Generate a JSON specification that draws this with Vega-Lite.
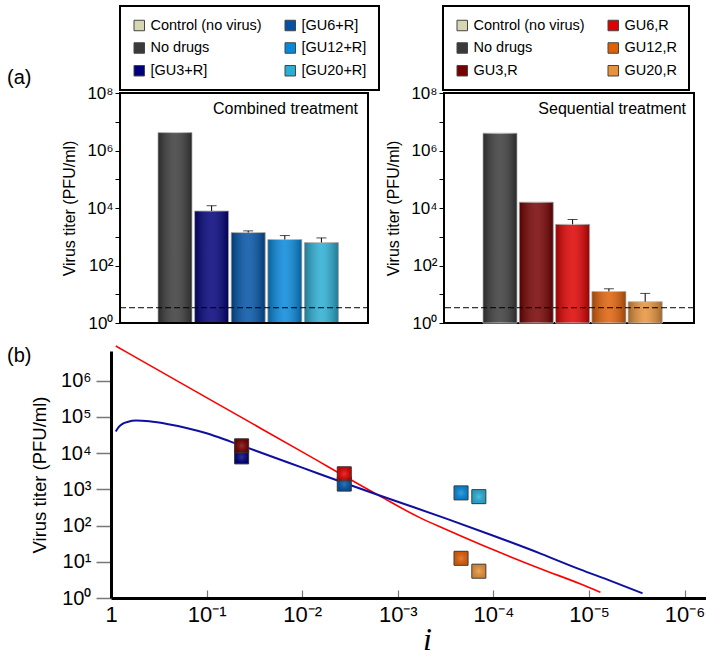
{
  "$schema": "https://vega.github.io/schema/vega-lite/v6.json",
  "padding": {"left": 7, "top": 4, "right": 0, "bottom": 0},
  "config": {"font": "Liberation Sans", "view": {"stroke": null}, "axis": {"grid": false, "labelColor": "black", "titleColor": "black"}, "legend": {"strokeWidth": 2}},
  "datasets": {
    "bars": [
      {"panel": "Combined", "cat": "No drugs", "v": 4200000},
      {"panel": "Combined", "cat": "[GU3+R]", "i": 0.043, "v": 7900, "err": 12000},
      {"panel": "Combined", "cat": "[GU6+R]", "i": 0.00363, "v": 1400, "err": 1600},
      {"panel": "Combined", "cat": "[GU12+R]", "i": 0.000218, "v": 800, "err": 1100},
      {"panel": "Combined", "cat": "[GU20+R]", "i": 0.000142, "v": 630, "err": 910},
      {"panel": "Sequential", "cat": "No drugs", "v": 4000000},
      {"panel": "Sequential", "cat": "GU3,R", "i": 0.043, "v": 16000},
      {"panel": "Sequential", "cat": "GU6,R", "i": 0.00363, "v": 2700, "err": 4000},
      {"panel": "Sequential", "cat": "GU12,R", "i": 0.000218, "v": 12.5, "err": 15.5},
      {"panel": "Sequential", "cat": "GU20,R", "i": 0.000142, "v": 5.5, "err": 10.7}
    ],
    "model": [
      {"model": "Sequential", "i": 0.8913, "v": 9120000},
      {"model": "Sequential", "i": 0.1, "v": 343000},
      {"model": "Sequential", "i": 0.01, "v": 10840},
      {"model": "Sequential", "i": 0.001585, "v": 684},
      {"model": "Sequential", "i": 0.000589, "v": 166},
      {"model": "Sequential", "i": 0.0003162, "v": 79.4},
      {"model": "Sequential", "i": 0.0001, "v": 21.4},
      {"model": "Sequential", "i": 0.00003162, "v": 6.31},
      {"model": "Sequential", "i": 0.00001242, "v": 2.48},
      {"model": "Sequential", "i": 0.000007586, "v": 1.445},
      {"model": "Combined", "i": 0.8913, "v": 39811},
      {"model": "Combined", "i": 0.8318, "v": 52481},
      {"model": "Combined", "i": 0.7586, "v": 64565},
      {"model": "Combined", "i": 0.6607, "v": 74131},
      {"model": "Combined", "i": 0.5495, "v": 79433},
      {"model": "Combined", "i": 0.3981, "v": 75858},
      {"model": "Combined", "i": 0.2512, "v": 63096},
      {"model": "Combined", "i": 0.1585, "v": 48978},
      {"model": "Combined", "i": 0.1, "v": 35481},
      {"model": "Combined", "i": 0.05623, "v": 20893},
      {"model": "Combined", "i": 0.03162, "v": 12023},
      {"model": "Combined", "i": 0.01, "v": 3981},
      {"model": "Combined", "i": 0.003162, "v": 1318},
      {"model": "Combined", "i": 0.001, "v": 457},
      {"model": "Combined", "i": 0.0003162, "v": 158.5},
      {"model": "Combined", "i": 0.0001, "v": 52.5},
      {"model": "Combined", "i": 0.00003162, "v": 16.6},
      {"model": "Combined", "i": 0.00001242, "v": 6.17},
      {"model": "Combined", "i": 0.00000631, "v": 3.16},
      {"model": "Combined", "i": 0.000002754, "v": 1.35}
    ]
  },
  "resolve": {"scale": {"color": "independent", "fill": "independent", "stroke": "independent"}, "legend": {"color": "independent"}},
  "spacing": 10,
  "vconcat": [
    {
      "spacing": 4,
      "resolve": {"scale": {"color": "independent"}, "legend": {"color": "independent"}},
      "hconcat": [
        {
          "width": 257,
          "height": 230,
          "layer": [
            {
              "data": {"name": "bars"},
              "transform": [{"filter": "datum.panel === 'Combined'"}],
              "mark": {"type": "bar", "stroke": "#c4c4c4", "strokeWidth": 1},
              "encoding": {
                "x": {"field": "cat", "type": "nominal", "scale": {"domain": ["Control (no virus)", "No drugs", "[GU3+R]", "[GU6+R]", "[GU12+R]", "[GU20+R]"], "paddingInner": 0.071, "paddingOuter": 0.546, "align": 0.26}, "axis": null},
                "y": {"field": "v", "type": "quantitative", "scale": {"type": "log", "domain": [1, 100000000], "nice": false},
                  "axis": {"values": [1, 10, 100, 1000, 10000, 100000, 1000000, 10000000, 100000000], "labelExpr": "['10⁰','','10²','','10⁴','','10⁶','','10⁸'][round(log(datum.value)/LN10)]", "title": "Virus titer (PFU/ml)", "titleFontSize": 16, "titleFontWeight": "normal", "titlePadding": 9, "labelFontSize": 17, "labelPadding": 2, "labelFlush": false, "labelOverlap": false, "tickSize": 5, "tickColor": "black", "domain": false, "offset": -9}},
                "y2": {"datum": 1},
                "color": {"field": "cat", "type": "nominal",
                  "scale": {"domain": ["Control (no virus)", "No drugs", "[GU3+R]", "[GU6+R]", "[GU12+R]", "[GU20+R]"], "range": ["#d6d6b0", "#3a3a3a", "#00007a", "#0052a6", "#0688dc", "#2aaed4"]},
                  "legend": {"orient": "none", "legendX": 9, "legendY": -87, "columns": 2, "direction": "vertical", "title": null, "symbolType": "square", "symbolSize": 110, "symbolStrokeColor": "#444", "symbolStrokeWidth": 1, "labelFontSize": 14.5, "labelOffset": 4, "columnPadding": 21, "rowPadding": 6.75, "padding": 12, "strokeColor": "black", "labelColor": "black"}}
              }
            },
            {
              "data": {"name": "bars"},
              "transform": [{"filter": "datum.panel === 'Combined'"}],
              "mark": {"type": "bar", "stroke": null, "fill": {"gradient": "linear", "x1": 0, "y1": 0, "x2": 1, "y2": 0, "stops": [{"offset": 0, "color": "rgba(0,0,0,0.3)"}, {"offset": 0.5, "color": "rgba(255,255,255,0.15)"}, {"offset": 1, "color": "rgba(0,0,0,0.3)"}]}},
              "encoding": {
                "x": {"field": "cat", "type": "nominal"},
                "y": {"field": "v", "type": "quantitative"},
                "y2": {"datum": 1}
              }
            },
            {
              "data": {"name": "bars"},
              "transform": [{"filter": "datum.panel === 'Combined' && isValid(datum.err)"}],
              "mark": {"type": "rule", "color": "black", "strokeWidth": 1},
              "encoding": {
                "x": {"field": "cat", "type": "nominal"},
                "y": {"field": "v", "type": "quantitative"},
                "y2": {"field": "err"}
              }
            },
            {
              "data": {"name": "bars"},
              "transform": [{"filter": "datum.panel === 'Combined' && isValid(datum.err)"}],
              "mark": {"type": "tick", "color": "black", "thickness": 1, "size": 10},
              "encoding": {
                "x": {"field": "cat", "type": "nominal"},
                "y": {"field": "err", "type": "quantitative"}
              }
            },
            {
              "data": {"values": [{}]},
              "mark": {"type": "rule", "color": "black", "strokeWidth": 1, "strokeDash": [6, 3]},
              "encoding": {
                "x": {"datum": "Control (no virus)", "bandPosition": -0.04},
                "x2": {"value": "width"},
                "y": {"datum": 3.4}
              }
            },
            {
              "data": {"values": [{}]},
              "mark": {"type": "rect", "fill": null, "stroke": "black", "strokeWidth": 2},
              "encoding": {
                "x": {"datum": "Control (no virus)", "bandPosition": -0.04},
                "x2": {"value": "width"},
                "y": {"datum": 100000000},
                "y2": {"datum": 1}
              }
            },
            {
              "data": {"values": [{}]},
              "mark": {"type": "text", "align": "right", "baseline": "middle", "dx": -10, "fontSize": 16, "color": "black"},
              "encoding": {
                "x": {"value": "width"},
                "y": {"datum": 27500000},
                "text": {"value": "Combined treatment"}
              }
            },
            {
              "data": {"values": [{}]},
              "mark": {"type": "text", "align": "left", "baseline": "middle", "dx": -113, "fontSize": 20, "color": "black"},
              "encoding": {
                "x": {"datum": "Control (no virus)", "bandPosition": -0.04},
                "y": {"datum": 330000000},
                "text": {"value": "(a)"}
              }
            }
          ]
        },
        {
          "width": 250,
          "height": 230,
          "view": {"stroke": "black", "strokeWidth": 2},
          "layer": [
            {
              "data": {"name": "bars"},
              "transform": [{"filter": "datum.panel === 'Sequential'"}],
              "mark": {"type": "bar", "stroke": "#c4c4c4", "strokeWidth": 1},
              "encoding": {
                "x": {"field": "cat", "type": "nominal", "scale": {"domain": ["Control (no virus)", "No drugs", "GU3,R", "GU6,R", "GU12,R", "GU20,R"], "paddingInner": 0.063, "paddingOuter": 0.475, "align": 0.078}, "axis": null},
                "y": {"field": "v", "type": "quantitative", "scale": {"type": "log", "domain": [1, 100000000], "nice": false},
                  "axis": {"values": [1, 10, 100, 1000, 10000, 100000, 1000000, 10000000, 100000000], "labelExpr": "['10⁰','','10²','','10⁴','','10⁶','','10⁸'][round(log(datum.value)/LN10)]", "title": "Virus titer (PFU/ml)", "titleFontSize": 16, "titleFontWeight": "normal", "titlePadding": 9, "labelFontSize": 17, "labelPadding": 2, "labelFlush": false, "labelOverlap": false, "tickSize": 5, "tickColor": "black", "domain": false}},
                "y2": {"datum": 1},
                "color": {"field": "cat", "type": "nominal",
                  "scale": {"domain": ["Control (no virus)", "No drugs", "GU3,R", "GU6,R", "GU12,R", "GU20,R"], "range": ["#d6d6b0", "#3a3a3a", "#760000", "#e00000", "#e06008", "#e8923a"]},
                  "legend": {"orient": "none", "legendX": -1, "legendY": -87, "columns": 2, "direction": "vertical", "title": null, "symbolType": "square", "symbolSize": 110, "symbolStrokeColor": "#444", "symbolStrokeWidth": 1, "labelFontSize": 14.5, "labelOffset": 4, "columnPadding": 21, "rowPadding": 6.75, "padding": 12, "strokeColor": "black", "labelColor": "black"}}
              }
            },
            {
              "data": {"name": "bars"},
              "transform": [{"filter": "datum.panel === 'Sequential'"}],
              "mark": {"type": "bar", "stroke": null, "fill": {"gradient": "linear", "x1": 0, "y1": 0, "x2": 1, "y2": 0, "stops": [{"offset": 0, "color": "rgba(0,0,0,0.3)"}, {"offset": 0.5, "color": "rgba(255,255,255,0.15)"}, {"offset": 1, "color": "rgba(0,0,0,0.3)"}]}},
              "encoding": {
                "x": {"field": "cat", "type": "nominal"},
                "y": {"field": "v", "type": "quantitative"},
                "y2": {"datum": 1}
              }
            },
            {
              "data": {"name": "bars"},
              "transform": [{"filter": "datum.panel === 'Sequential' && isValid(datum.err)"}],
              "mark": {"type": "rule", "color": "black", "strokeWidth": 1},
              "encoding": {
                "x": {"field": "cat", "type": "nominal"},
                "y": {"field": "v", "type": "quantitative"},
                "y2": {"field": "err"}
              }
            },
            {
              "data": {"name": "bars"},
              "transform": [{"filter": "datum.panel === 'Sequential' && isValid(datum.err)"}],
              "mark": {"type": "tick", "color": "black", "thickness": 1, "size": 10},
              "encoding": {
                "x": {"field": "cat", "type": "nominal"},
                "y": {"field": "err", "type": "quantitative"}
              }
            },
            {
              "data": {"values": [{}]},
              "mark": {"type": "rule", "color": "black", "strokeWidth": 1, "strokeDash": [6, 3]},
              "encoding": {
                "y": {"datum": 3.4}
              }
            },
            {
              "data": {"values": [{}]},
              "mark": {"type": "text", "align": "right", "baseline": "middle", "dx": -8, "fontSize": 16, "color": "black"},
              "encoding": {
                "x": {"value": "width"},
                "y": {"datum": 27500000},
                "text": {"value": "Sequential treatment"}
              }
            }
          ]
        }
      ]
    },
    {
      "width": 595,
      "height": 247,
      "layer": [
        {
          "data": {"name": "model"},
          "mark": {"type": "line", "clip": false, "interpolate": "monotone"},
          "encoding": {
            "x": {"field": "i", "type": "quantitative", "scale": {"type": "log", "domain": [1, 0.000000597], "nice": false},
              "axis": {"values": [1, 0.1, 0.01, 0.001, 0.0001, 0.00001, 0.000001], "labelExpr": "datum.value > 0.5 ? '1' : '10⁻' + ['','¹','²','³','⁴','⁵','⁶'][round(-log(datum.value)/LN10)]", "title": "i", "titleFont": "Liberation Serif", "titleFontStyle": "italic", "titleFontSize": 32, "titleFontWeight": "normal", "titleX": 316, "titleY": 51, "titleBaseline": "alphabetic", "titleAlign": "center", "labelFontSize": 22, "labelPadding": 14, "labelFlush": false, "labelOverlap": false, "tickSize": -8, "tickColor": "#777", "tickWidth": 1.2, "domainColor": "black", "domainWidth": 3}},
            "y": {"field": "v", "type": "quantitative", "scale": {"type": "log", "domain": [1, 6650000], "nice": false},
              "axis": {"values": [1, 10, 100, 1000, 10000, 100000, 1000000], "labelExpr": "['10⁰','10¹','10²','10³','10⁴','10⁵','10⁶'][round(log(datum.value)/LN10)]", "title": "Virus titer (PFU/ml)", "titleFontSize": 18.5, "titleFontWeight": "normal", "titlePadding": 11, "labelFontSize": 20, "labelPadding": 5, "labelFlush": false, "labelOverlap": false, "tickSize": 15, "tickColor": "#777", "tickWidth": 1.5, "domainColor": "black", "domainWidth": 3}},
            "stroke": {"field": "model", "type": "nominal", "scale": {"domain": ["Sequential", "Combined"], "range": ["#ff0000", "#1010a0"]}, "legend": null},
            "strokeWidth": {"field": "model", "type": "nominal", "scale": {"domain": ["Sequential", "Combined"], "range": [1.6, 2]}, "legend": null}
          }
        },
        {
          "data": {"name": "bars"},
          "transform": [{"filter": "datum.cat !== 'No drugs'"}],
          "mark": {"type": "point", "shape": "square", "size": 196, "filled": true, "opacity": 1, "stroke": "#333", "strokeWidth": 1},
          "encoding": {
            "x": {"field": "i", "type": "quantitative"},
            "y": {"field": "v", "type": "quantitative"},
            "fill": {"field": "cat", "type": "nominal", "scale": {"domain": ["[GU3+R]", "[GU6+R]", "[GU12+R]", "[GU20+R]", "GU3,R", "GU6,R", "GU12,R", "GU20,R"], "range": ["#00007a", "#0052a6", "#0688dc", "#2aaed4", "#760000", "#e00000", "#e06008", "#e8923a"]}, "legend": null}
          }
        },
        {
          "data": {"name": "bars"},
          "transform": [{"filter": "datum.cat !== 'No drugs'"}],
          "mark": {"type": "point", "shape": "square", "size": 150, "filled": true, "opacity": 1, "strokeWidth": 0, "fill": {"gradient": "radial", "x1": 0.5, "y1": 0.5, "r1": 0, "x2": 0.5, "y2": 0.5, "r2": 0.6, "stops": [{"offset": 0, "color": "rgba(255,255,255,0.2)"}, {"offset": 1, "color": "rgba(0,0,0,0.12)"}]}},
          "encoding": {
            "x": {"field": "i", "type": "quantitative"},
            "y": {"field": "v", "type": "quantitative"}
          }
        },
        {
          "data": {"values": [{}]},
          "mark": {"type": "text", "align": "left", "baseline": "middle", "dx": -104, "fontSize": 20, "color": "black"},
          "encoding": {
            "x": {"datum": 1},
            "y": {"datum": 4840000},
            "text": {"value": "(b)"}
          }
        }
      ]
    }
  ]
}
